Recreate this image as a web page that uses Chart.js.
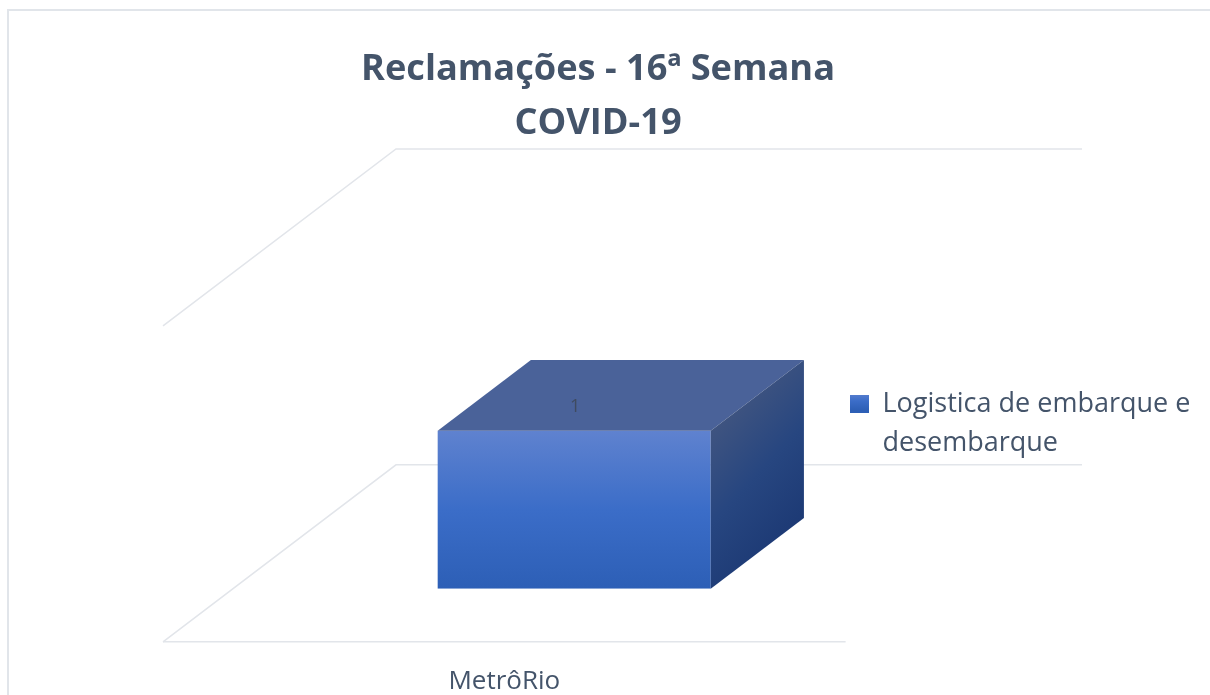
<!DOCTYPE html>
<html lang="pt-BR">
<head>
<meta charset="utf-8">
<title>Reclamações - 16ª Semana</title>
<script src="https://cdn.jsdelivr.net/npm/chart.js@4"></script>
<style>
    body { margin: 0; background: #fff; overflow: hidden; }
    #moldura { position: absolute; left: 7px; top: 9px; right: 0; bottom: 0; border-left: 2px solid #e1e5ea; border-top: 2px solid #e1e5ea; }
    #grafico { position: absolute; left: 0; top: 0; }
</style>
</head>
<body>
<div id="moldura"></div>
<canvas id="grafico" width="1210" height="695"></canvas>
<script>
const categorias = ['MetrôRio'];
const serieNome = ['Logistica de embarque e', 'desembarque'];
const serieValores = [1];
const tituloLinhas = ['Reclamações - 16ª Semana', 'COVID-19'];
const yTicks = [0, 2];

const corTexto = '#44546a';
const corGrade = '#e2e5ea';
const fonte = '"Open Sans", sans-serif';

// perspectiva do piso: deslocamento da frente para o fundo
const fundoX = 233;
const fundoY = -177;
const fundoDireita = 1082;
const barraInicio = 0.3;
const barraFim = 0.7;

function gradienteFrente(ctx, topo, base) {
    const g = ctx.createLinearGradient(0, topo, 0, base);
    g.addColorStop(0, '#5f82cf');
    g.addColorStop(0.5, '#3b6dc8');
    g.addColorStop(1, '#2d5fb6');
    return g;
}

const perspectiva3d = {
    id: 'perspectiva3d',
    beforeDatasetsDraw(chart) {
        const { ctx, chartArea, scales } = chart;
        ctx.save();
        ctx.strokeStyle = corGrade;
        ctx.lineWidth = 1.5;
        yTicks.forEach(valor => {
            const y = scales.y.getPixelForValue(valor);
            ctx.beginPath();
            ctx.moveTo(chartArea.left, y);
            ctx.lineTo(chartArea.left + fundoX, y + fundoY);
            ctx.lineTo(fundoDireita, y + fundoY);
            ctx.stroke();
        });
        const base = scales.y.getPixelForValue(yTicks[0]);
        ctx.beginPath();
        ctx.moveTo(chartArea.left, base);
        ctx.lineTo(chartArea.right, base);
        ctx.stroke();
        ctx.restore();
    },
    beforeDatasetDraw(chart) {
        chart.ctx.save();
        chart.ctx.translate(fundoX * barraInicio, fundoY * barraInicio);
    },
    afterDatasetDraw(chart) {
        const { ctx } = chart;
        const barra = chart.getDatasetMeta(0).data[0];
        const esq = barra.x - barra.width / 2;
        const dir = barra.x + barra.width / 2;
        const dx = fundoX * (barraFim - barraInicio);
        const dy = fundoY * (barraFim - barraInicio);

        // face de cima
        ctx.fillStyle = '#4a6299';
        ctx.beginPath();
        ctx.moveTo(esq, barra.y);
        ctx.lineTo(esq + dx, barra.y + dy);
        ctx.lineTo(dir + dx, barra.y + dy);
        ctx.lineTo(dir, barra.y);
        ctx.closePath();
        ctx.fill();

        // face lateral
        const lado = ctx.createLinearGradient(dir, barra.y, dir + dx, barra.base + dy);
        lado.addColorStop(0, '#3f5480');
        lado.addColorStop(0.5, '#274680');
        lado.addColorStop(1, '#1d3a75');
        ctx.fillStyle = lado;
        ctx.beginPath();
        ctx.moveTo(dir, barra.y);
        ctx.lineTo(dir + dx, barra.y + dy);
        ctx.lineTo(dir + dx, barra.base + dy);
        ctx.lineTo(dir, barra.base);
        ctx.closePath();
        ctx.fill();

        // rótulo do valor
        ctx.fillStyle = '#3f4b60';
        ctx.font = '18px ' + fonte;
        ctx.textAlign = 'center';
        ctx.textBaseline = 'middle';
        ctx.fillText(String(serieValores[0]), barra.x + 1, barra.y - 24);
        ctx.restore();
    },
    afterLayout(chart) {
        // título centrado no quadro e não na área do gráfico
        chart.titleBlock.left = 0;
        chart.titleBlock.right = 1196;
        // legenda na altura da barra
        const legenda = chart.legend;
        const largura = legenda.right - legenda.left;
        legenda.left = 840;
        legenda.right = 840 + largura;
        legenda.top += 64;
        legenda.bottom += 64;
    }
};

new Chart(document.getElementById('grafico'), {
    type: 'bar',
    data: {
        labels: categorias,
        datasets: [{
            label: serieNome,
            data: serieValores,
            barPercentage: 0.4,
            categoryPercentage: 1,
            backgroundColor: function (c) {
                const el = c.chart.scales.y;
                if (!el || !c.chart.chartArea) return '#3b6dc8';
                return gradienteFrente(c.chart.ctx, el.getPixelForValue(serieValores[0]), el.getPixelForValue(0));
            }
        }]
    },
    options: {
        responsive: false,
        animation: false,
        layout: { padding: { left: 163, top: 10, right: 4, bottom: -26 } },
        scales: {
            x: {
                grid: { display: false, drawTicks: false },
                border: { display: false },
                ticks: { color: corTexto, padding: 24, font: { family: fonte, size: 26 } }
            },
            y: { display: false, min: yTicks[0], max: yTicks[1] }
        },
        plugins: {
            title: {
                display: true,
                text: tituloLinhas,
                color: corTexto,
                padding: { top: 33, bottom: 175 },
                font: { family: fonte, size: 36.2, weight: 'bold', lineHeight: 1.49 }
            },
            tooltip: { enabled: false },
            legend: {
                position: 'right',
                align: 'center',
                labels: {
                    color: corTexto,
                    boxWidth: 19,
                    boxHeight: 18,
                    font: { family: fonte, size: 27, lineHeight: 1.444 },
                    generateLabels(chart) {
                        return [{
                            text: serieNome,
                            fontColor: corTexto,
                            fillStyle: gradienteFrente(chart.ctx, 392, 410),
                            strokeStyle: 'transparent',
                            lineWidth: 0,
                            datasetIndex: 0
                        }];
                    }
                }
            }
        }
    },
    plugins: [perspectiva3d]
});
</script>
</body>
</html>
